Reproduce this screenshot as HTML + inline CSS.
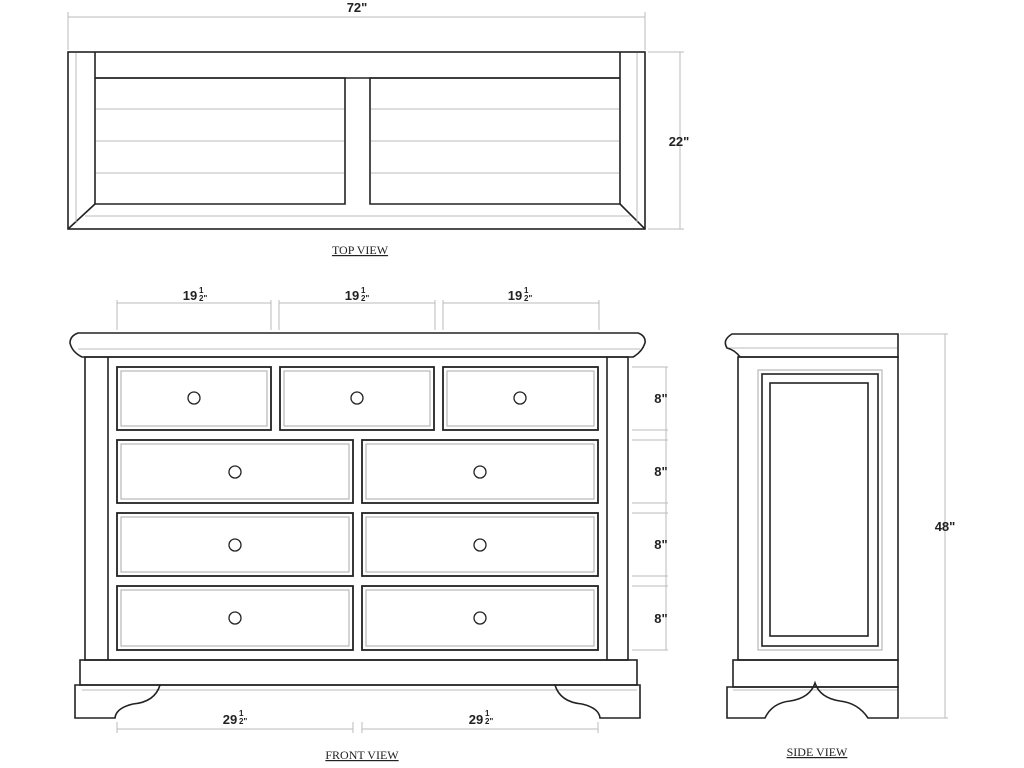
<!DOCTYPE html>
<html><head><style>
body{margin:0;background:#fff;}
svg{display:block}
text{font-family:"Liberation Sans",sans-serif;fill:#222}
.s{font-family:"Liberation Serif",serif;font-size:12px;text-decoration:underline}
.d{font-size:13px;font-weight:bold}
.f{font-size:8px;font-weight:bold}
</style></head><body>
<svg width="1024" height="768" viewBox="0 0 1024 768">
<g fill="none" stroke="#222" stroke-width="1.6">
<!-- TOP VIEW -->
<rect x="68" y="52" width="577" height="177"/>
<line x1="95" y1="52" x2="95" y2="204"/><line x1="620" y1="52" x2="620" y2="204"/>
<line x1="95" y1="78" x2="620" y2="78"/>
<polyline points="95,78 345,78 345,204 95,204"/>
<polyline points="620,78 370,78 370,204 620,204"/>
<line x1="68" y1="229" x2="95" y2="204"/><line x1="645" y1="229" x2="620" y2="204"/>
</g>
<g fill="none" stroke="#bbb" stroke-width="1">
<line x1="96" y1="109" x2="344" y2="109"/><line x1="371" y1="109" x2="619" y2="109"/>
<line x1="96" y1="141" x2="344" y2="141"/><line x1="371" y1="141" x2="619" y2="141"/>
<line x1="96" y1="173" x2="344" y2="173"/><line x1="371" y1="173" x2="619" y2="173"/>
<line x1="85" y1="216" x2="630" y2="216"/>
<line x1="76" y1="53" x2="76" y2="222"/><line x1="637" y1="53" x2="637" y2="222"/>
<!-- dims -->
<line x1="68" y1="17" x2="645" y2="17"/><line x1="68" y1="12" x2="68" y2="50"/><line x1="645" y1="12" x2="645" y2="50"/>
<line x1="680" y1="52" x2="680" y2="229"/><line x1="648" y1="52" x2="684" y2="52"/><line x1="648" y1="229" x2="684" y2="229"/>
<line x1="117" y1="303" x2="271" y2="303"/><line x1="279" y1="303" x2="435" y2="303"/><line x1="443" y1="303" x2="599" y2="303"/>
<line x1="117" y1="300" x2="117" y2="330"/><line x1="271" y1="300" x2="271" y2="330"/><line x1="279" y1="300" x2="279" y2="330"/><line x1="435" y1="300" x2="435" y2="330"/><line x1="443" y1="300" x2="443" y2="330"/><line x1="599" y1="300" x2="599" y2="330"/>
<line x1="117" y1="729" x2="353" y2="729"/><line x1="362" y1="729" x2="598" y2="729"/>
<line x1="117" y1="722" x2="117" y2="733"/><line x1="353" y1="722" x2="353" y2="733"/><line x1="362" y1="722" x2="362" y2="733"/><line x1="598" y1="722" x2="598" y2="733"/>
<line x1="666" y1="367" x2="666" y2="650"/>
<line x1="632" y1="367" x2="668" y2="367"/><line x1="632" y1="430" x2="668" y2="430"/><line x1="632" y1="440" x2="668" y2="440"/><line x1="632" y1="503" x2="668" y2="503"/><line x1="632" y1="513" x2="668" y2="513"/><line x1="632" y1="576" x2="668" y2="576"/><line x1="632" y1="586" x2="668" y2="586"/><line x1="632" y1="650" x2="668" y2="650"/>
<line x1="945" y1="334" x2="945" y2="718"/><line x1="900" y1="334" x2="948" y2="334"/><line x1="900" y1="718" x2="948" y2="718"/>
<!-- front inner light lines -->
<line x1="78" y1="349" x2="640" y2="349"/>
<line x1="82" y1="690" x2="637" y2="690"/>
<line x1="728" y1="348" x2="897" y2="348"/>
<line x1="733" y1="690" x2="897" y2="690"/>
</g>
<!-- FRONT VIEW -->
<g fill="none" stroke="#222" stroke-width="1.6">
<path d="M78,333 L638,333 Q646,336 645,343 Q642,352 633,357 L82,357 Q72,352 70,343 Q70,336 78,333 Z"/>
<rect x="85" y="357" width="543" height="303"/>
<line x1="108" y1="357" x2="108" y2="660"/><line x1="607" y1="357" x2="607" y2="660"/>
<rect x="80" y="660" width="557" height="25"/>
<path d="M75,685 L160,685 Q155,702 133,704 Q116,708 115,718 L75,718 Z"/>
<path d="M640,685 L555,685 Q560,702 582,704 Q599,708 600,718 L640,718 Z"/>
<line x1="160" y1="685" x2="555" y2="685"/>
</g>
<g fill="none" stroke="#222" stroke-width="1.8">
<rect x="117" y="367" width="154" height="63"/><rect x="280" y="367" width="154" height="63"/><rect x="443" y="367" width="155" height="63"/>
<rect x="117" y="440" width="236" height="63"/><rect x="362" y="440" width="236" height="63"/>
<rect x="117" y="513" width="236" height="63"/><rect x="362" y="513" width="236" height="63"/>
<rect x="117" y="586" width="236" height="64"/><rect x="362" y="586" width="236" height="64"/>
</g>
<g fill="none" stroke="#aaa" stroke-width="1">
<rect x="121" y="371" width="146" height="55"/><rect x="284" y="371" width="146" height="55"/><rect x="447" y="371" width="147" height="55"/>
<rect x="121" y="444" width="228" height="55"/><rect x="366" y="444" width="228" height="55"/>
<rect x="121" y="517" width="228" height="55"/><rect x="366" y="517" width="228" height="55"/>
<rect x="121" y="590" width="228" height="56"/><rect x="366" y="590" width="228" height="56"/>
</g>
<g fill="none" stroke="#222" stroke-width="1.3">
<circle cx="194" cy="398" r="6"/><circle cx="357" cy="398" r="6"/><circle cx="520" cy="398" r="6"/>
<circle cx="235" cy="472" r="6"/><circle cx="480" cy="472" r="6"/>
<circle cx="235" cy="545" r="6"/><circle cx="480" cy="545" r="6"/>
<circle cx="235" cy="618" r="6"/><circle cx="480" cy="618" r="6"/>
</g>
<!-- SIDE VIEW -->
<g fill="none" stroke="#222" stroke-width="1.6">
<path d="M732,334 L898,334 L898,357 L740,357 Q735,350 727,348 Q722,340 732,334 Z"/>
<rect x="738" y="357" width="160" height="303"/>
<rect x="733" y="660" width="165" height="27"/>
<path d="M727,687 L898,687 L898,718 L868,718 Q858,703 840,701 Q820,698 815,683 Q810,698 790,701 Q772,703 765,718 L727,718 Z"/>
<rect x="762" y="374" width="116" height="272"/>
<rect x="770" y="383" width="98" height="253"/>
</g>
<g fill="none" stroke="#aaa" stroke-width="1"><rect x="758" y="370" width="124" height="280"/></g>
<!-- TEXT -->
<text x="357" y="12" class="d" text-anchor="middle">72"</text>
<text x="679" y="146" class="d" text-anchor="middle">22"</text>
<text x="360" y="254" class="s" text-anchor="middle">TOP  VIEW</text>
<text x="190" y="300" class="d" text-anchor="middle">19</text><text x="199" y="293" class="f">1</text><text x="199" y="301" class="f">2"</text>
<text x="352" y="300" class="d" text-anchor="middle">19</text><text x="361" y="293" class="f">1</text><text x="361" y="301" class="f">2"</text>
<text x="515" y="300" class="d" text-anchor="middle">19</text><text x="524" y="293" class="f">1</text><text x="524" y="301" class="f">2"</text>
<text x="661" y="403" class="d" text-anchor="middle">8"</text>
<text x="661" y="476" class="d" text-anchor="middle">8"</text>
<text x="661" y="549" class="d" text-anchor="middle">8"</text>
<text x="661" y="623" class="d" text-anchor="middle">8"</text>
<text x="230" y="724" class="d" text-anchor="middle">29</text><text x="239" y="716" class="f">1</text><text x="239" y="724" class="f">2"</text>
<text x="476" y="724" class="d" text-anchor="middle">29</text><text x="485" y="716" class="f">1</text><text x="485" y="724" class="f">2"</text>
<text x="945" y="531" class="d" text-anchor="middle">48"</text>
<text x="362" y="759" class="s" text-anchor="middle">FRONT VIEW</text>
<text x="817" y="756" class="s" text-anchor="middle">SIDE VIEW</text>
</svg>
</body></html>
